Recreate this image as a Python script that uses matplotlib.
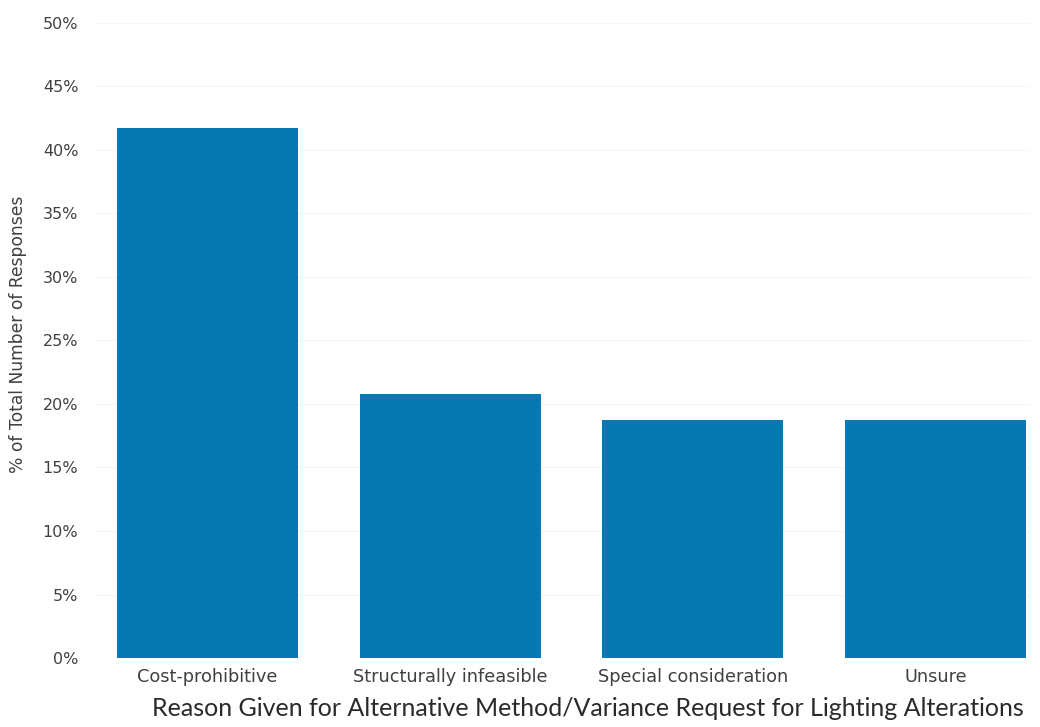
import matplotlib
matplotlib.use("Agg")
import matplotlib.pyplot as plt
from matplotlib.ticker import PercentFormatter

# data
reasons = ["Cost-prohibitive", "Structurally infeasible",
           "Special consideration", "Unsure"]
shares = [41.7, 20.8, 18.75, 18.75]
yticks = [0, 5, 10, 15, 20, 25, 30, 35, 40, 45, 50]

plt.rcParams['font.family'] = ['DejaVu Sans']

fig = plt.figure(figsize=(10.4, 7.27), dpi=100)
ax = fig.add_axes([0.0913, 0.0949, 0.8990, 0.8735])

x = range(len(reasons))
ax.bar(x, shares, width=0.745, color='#0878b2', zorder=3)

ax.set_ylim(0, 50)
ax.set_xlim(-0.4635, 3.389)
ax.set_yticks(yticks)
ax.yaxis.set_major_formatter(PercentFormatter(decimals=0))
ax.set_xticks(list(x))
ax.set_xticklabels(reasons, fontsize=12.8)
ax.tick_params(axis='both', length=0, colors='#404040')
ax.tick_params(axis='y', labelsize=11.5, pad=12)
ax.tick_params(axis='x', pad=7)
ax.grid(axis='y', color='#f4f4f4', linewidth=0.8, zorder=0)

for s in ax.spines.values():
    s.set_visible(False)

ax.set_ylabel('% of Total Number of Responses', fontsize=12.3, color='#404040')
ax.yaxis.set_label_coords(-0.073, 0.51)
ax.set_xlabel('Reason Given for Alternative Method/Variance Request for Lighting Alterations',
              fontsize=18, color='#2a2a2a', family='Lato')
ax.xaxis.set_label_coords(0.527, -0.062)

fig.savefig('out.png', dpi=100)
